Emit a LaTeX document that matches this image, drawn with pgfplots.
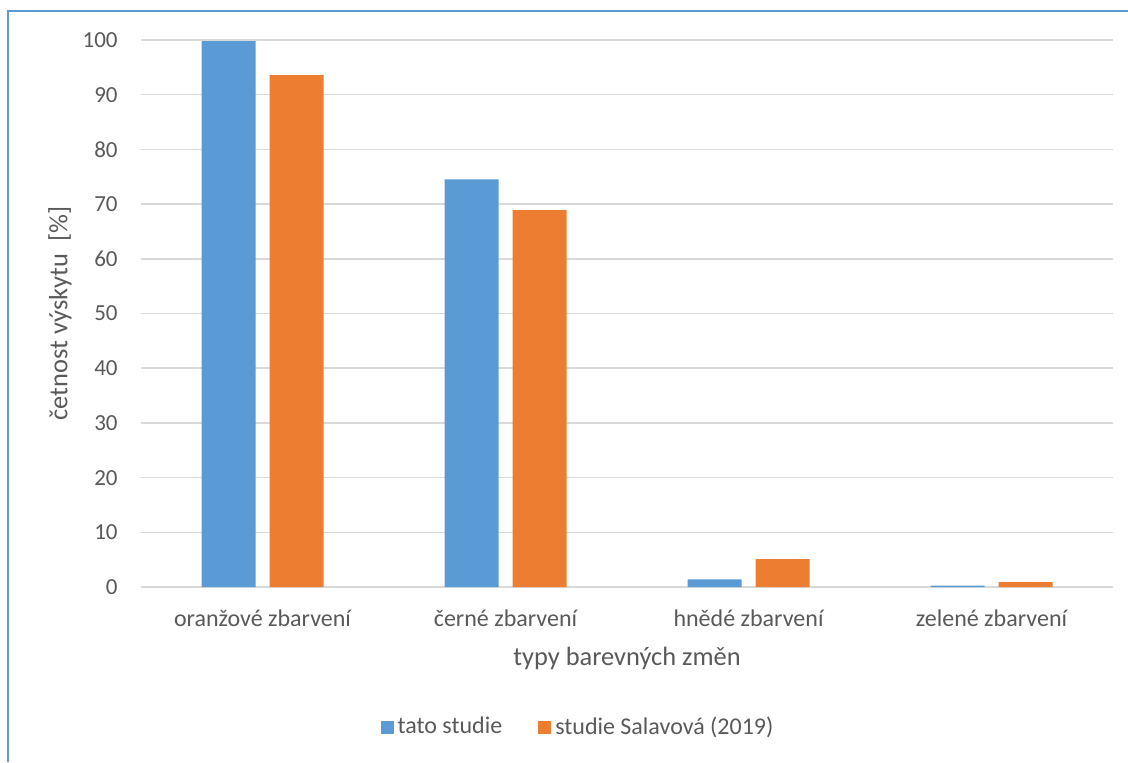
\documentclass[border=0pt]{standalone}
\usepackage{pgfplots}
\pgfplotsset{compat=1.18}
\usepackage{fontspec}
\setmainfont{Carlito}
\definecolor{cblue}{HTML}{5B9BD5}
\definecolor{corange}{HTML}{ED7D31}
\definecolor{ctext}{HTML}{595959}
\definecolor{cgrid}{HTML}{D9D9D9}
\begin{document}
\begin{tikzpicture}
\useasboundingbox (0,0) rectangle (564pt,-381pt);
\draw[cblue, line width=0.9pt] (4pt,-381pt) -- (4pt,-5.5pt) -- (564pt,-5.5pt);
\begin{axis}[
  at={(70.5pt,-293.5pt)}, anchor=south west,
  scale only axis, width=486pt, height=273.5pt,
  ybar=7pt, bar width=27pt,
  xmin=-0.5, xmax=3.5, ymin=0, ymax=100,
  xtick=data,
  xticklabels={oranžové zbarvení, černé zbarvení, hnědé zbarvení, zelené zbarvení},
  ytick={0,10,...,100},
  ymajorgrids, grid style={cgrid, line width=0.75pt},
  axis line style={draw=none},
  major tick length=0pt,
  tick style={draw=none},
  /pgf/number format/assume math mode=true,
  tick label style={font=\fontsize{11.5}{13.8}\selectfont, text=ctext},
  yticklabel style={inner sep=0pt, xshift=-11.5pt},
  xticklabel style={inner sep=0pt, yshift=-11pt, font=\fontsize{12}{14.4}\selectfont},
  xlabel={typy barevných změn},
  ylabel={četnost výskytu\ \ [\%]},
  label style={font=\fontsize{13.2}{15.8}\selectfont, text=ctext},
  xlabel style={at={(0.5,0)}, anchor=center, yshift=-35.5pt},
  ylabel style={at={(0,0.5)}, anchor=center, rotate=0, yshift=40.5pt},
  legend style={at={(0.4506,-0.256)}, anchor=center, draw=none, fill=none,
    font=\fontsize{12}{14.4}\selectfont, text=ctext,
    legend columns=2, /tikz/every even column/.append style={column sep=16pt},
    inner sep=0pt},
  legend image code/.code={\fill[#1] (0pt,-3.25pt) rectangle (6.5pt,3.25pt);},
]
\addplot[fill=cblue, draw=none] coordinates {(0,99.8) (1,74.5) (2,1.4) (3,0.25)};
\addplot[fill=corange, draw=none] coordinates {(0,93.6) (1,68.9) (2,5.1) (3,0.9)};
\legend{tato studie, studie Salavová (2019)}
\end{axis}
\end{tikzpicture}
\end{document}
